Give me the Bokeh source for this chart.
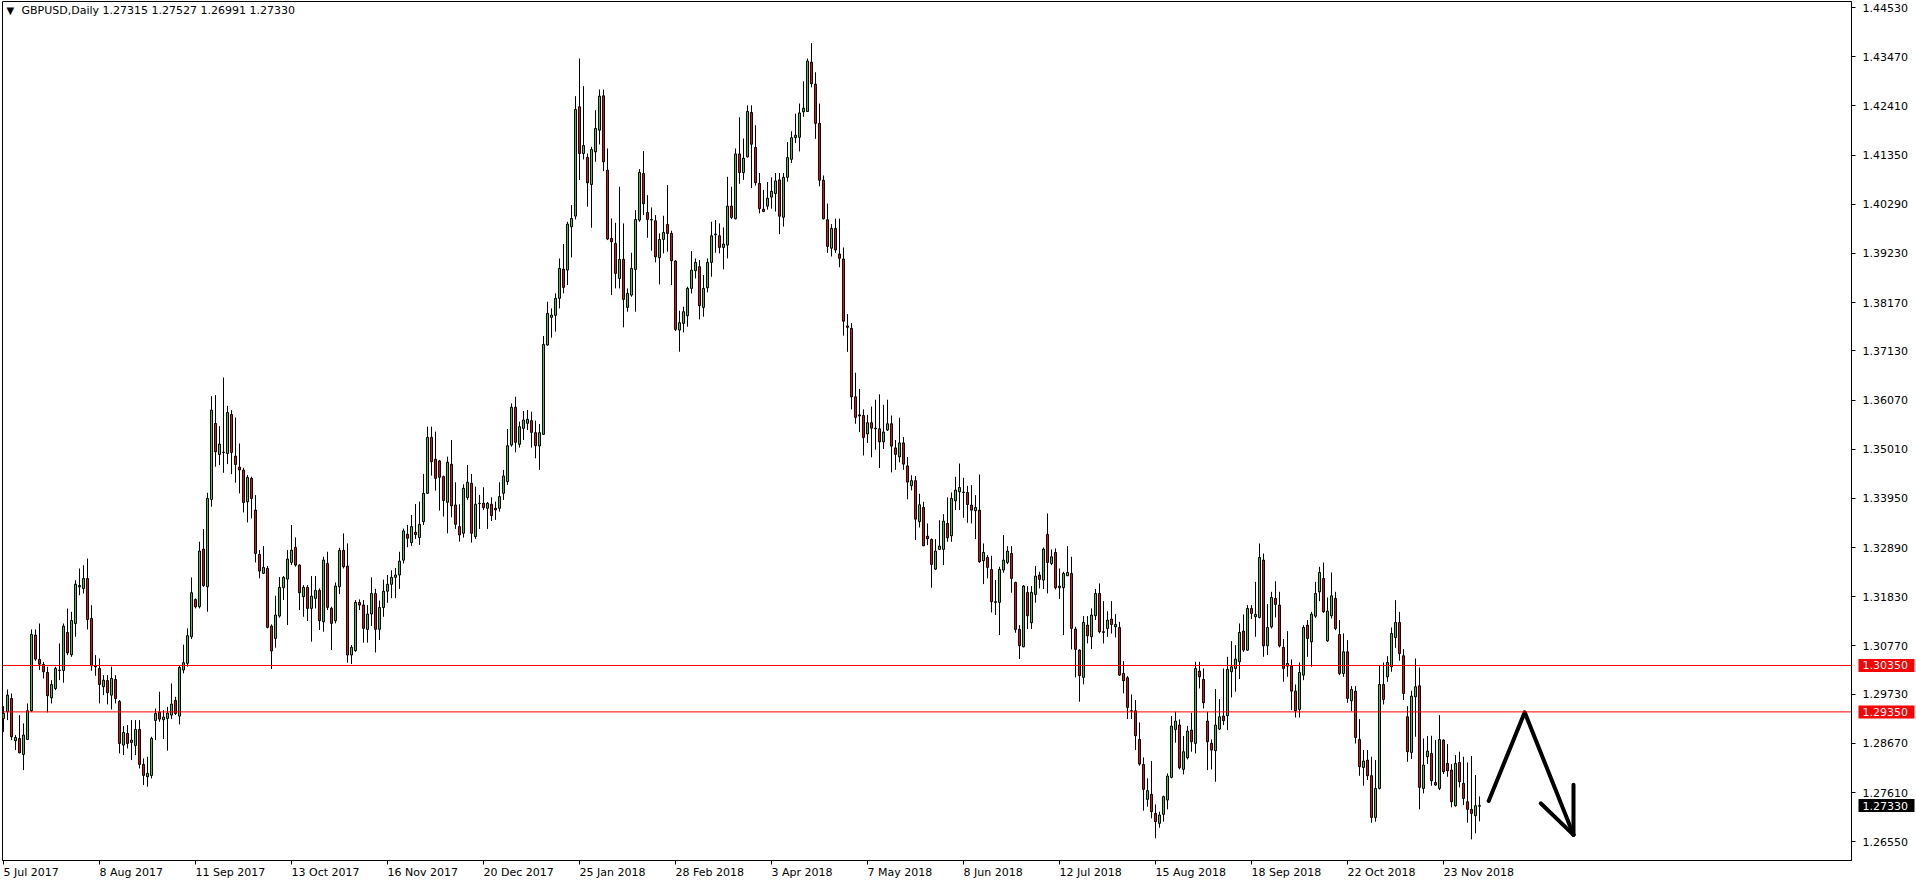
from bokeh.plotting import figure
from bokeh.models import Range1d, FixedTicker, PrintfTickFormatter, Span, Label, ColumnDataSource
from bokeh.core.properties import value
from bokeh.embed import file_html
from bokeh.resources import INLINE

# ---------------- data (GBPUSD daily) ----------------
opens = [
 1.29207, 1.29352, 1.29639, 1.28728, 1.28778, 1.28433, 1.28756, 1.29374, 1.31004, 1.30480,
 1.30372, 1.30200, 1.29654, 1.29855, 1.30243, 1.30243, 1.31061, 1.30580, 1.31255, 1.32045,
 1.32009, 1.32224, 1.31363, 1.30343, 1.30286, 1.29891, 1.30027, 1.29711, 1.30049, 1.29575,
 1.28634, 1.28886, 1.28692, 1.28627, 1.28972, 1.28218, 1.27952, 1.27981, 1.29166, 1.29345,
 1.29180, 1.29209, 1.29281, 1.29596, 1.29259, 1.30252, 1.30396, 1.30970, 1.31774, 1.31617,
 1.32859, 1.32047, 1.33928, 1.35566, 1.34898, 1.34941, 1.34919, 1.35759, 1.34862, 1.34625,
 1.34560, 1.33878, 1.34381, 1.33699, 1.32744, 1.32335, 1.32442, 1.31200, 1.30934, 1.31415,
 1.32026, 1.32212, 1.32571, 1.32895, 1.32514, 1.31832, 1.32033, 1.31581, 1.31796, 1.31968,
 1.31293, 1.32550, 1.31581, 1.31315, 1.32047, 1.32830, 1.32492, 1.30575, 1.30669, 1.31710,
 1.31652, 1.31128, 1.31460, 1.31900, 1.31130, 1.31600, 1.31950, 1.32100, 1.32250, 1.32300,
 1.32620, 1.33178, 1.32999, 1.33221, 1.33106, 1.33451, 1.34061, 1.35267, 1.34794, 1.34757,
 1.34420, 1.33867, 1.34686, 1.33810, 1.33343, 1.33200, 1.33968, 1.34277, 1.33128, 1.33839,
 1.33846, 1.33738, 1.33824, 1.33738, 1.33738, 1.34061, 1.34313, 1.35102, 1.35914, 1.35117,
 1.35461, 1.35569, 1.35627, 1.35368, 1.35081, 1.35332, 1.37256, 1.37852, 1.37895, 1.38262,
 1.38893, 1.38872, 1.39805, 1.40035, 1.42390, 1.41385, 1.41299, 1.40717, 1.41421, 1.41887,
 1.42627, 1.41026, 1.39554, 1.39446, 1.38692, 1.39102, 1.38068, 1.38333, 1.38886, 1.39949,
 1.40954, 1.40114, 1.39963, 1.39934, 1.39138, 1.39532, 1.39856, 1.39662, 1.39066, 1.37579,
 1.37723, 1.37888, 1.38477, 1.38857, 1.38944, 1.38068, 1.38491, 1.39037, 1.39633, 1.39611,
 1.39360, 1.39410, 1.40250, 1.39979, 1.41375, 1.40972, 1.41313, 1.42267, 1.41514, 1.40739,
 1.40181, 1.40250, 1.40444, 1.40522, 1.40816, 1.40010, 1.40871, 1.41259, 1.41724, 1.41732,
 1.42282, 1.42290, 1.43352, 1.42879, 1.42034, 1.40809, 1.39956, 1.39343, 1.39770, 1.39219,
 1.39110, 1.37668, 1.37614, 1.36140, 1.35752, 1.35737, 1.35341, 1.35582, 1.35465, 1.35450,
 1.35171, 1.35427, 1.35559, 1.35039, 1.34845, 1.35147, 1.34651, 1.34225, 1.34333, 1.33449,
 1.33756, 1.33138, 1.33066, 1.32427, 1.32851, 1.32851, 1.33411, 1.33145, 1.33899, 1.34093,
 1.34079, 1.34079, 1.33806, 1.33684, 1.33698, 1.32607, 1.32679, 1.32420, 1.31724, 1.31710,
 1.32406, 1.32571, 1.32765, 1.32140, 1.31128, 1.30754, 1.31925, 1.31271, 1.31882, 1.32298,
 1.32190, 1.33174, 1.32549, 1.32786, 1.32061, 1.32025, 1.32284, 1.32334, 1.31135, 1.30683,
 1.30094, 1.31221, 1.30970, 1.31422, 1.31903, 1.31077, 1.31148, 1.31349, 1.31184, 1.31169,
 1.30179, 1.30085, 1.29374, 1.29374, 1.28757, 1.28218, 1.27465, 1.27572, 1.27163, 1.26948,
 1.27142, 1.27450, 1.27939, 1.28972, 1.29066, 1.28111, 1.28362, 1.28958, 1.28671, 1.30229,
 1.30050, 1.29152, 1.28671, 1.28513, 1.28980, 1.29260, 1.29267, 1.30215, 1.30286, 1.30430,
 1.31090, 1.30681, 1.31579, 1.31399, 1.31385, 1.32620, 1.30775, 1.31184, 1.31794, 1.31651,
 1.30739, 1.30336, 1.30336, 1.29797, 1.29403, 1.30142, 1.31219, 1.30860, 1.31413, 1.31937,
 1.32224, 1.30882, 1.31420, 1.31794, 1.31018, 1.30178, 1.30645, 1.29589, 1.29797, 1.28756,
 1.28153, 1.28311, 1.27974, 1.27076, 1.27701, 1.29941, 1.30106, 1.30322, 1.30953, 1.31277,
 1.30559, 1.29245, 1.28476, 1.29675, 1.29912, 1.27701, 1.28383, 1.28455, 1.27830, 1.27701,
 1.28742, 1.28240, 1.28096, 1.27328, 1.28261, 1.27809, 1.27414, 1.27249, 1.27112, 1.27315,
]
highs = [
 1.29473, 1.29833, 1.29747, 1.28850, 1.29280, 1.29101, 1.29532, 1.31126, 1.31126, 1.31255,
 1.30429, 1.30322, 1.30034, 1.30322, 1.30824, 1.31255, 1.31578, 1.31506, 1.32188, 1.32440,
 1.32512, 1.32655, 1.31650, 1.30573, 1.30501, 1.30142, 1.30142, 1.30322, 1.30142, 1.29604,
 1.29044, 1.29065, 1.29173, 1.29173, 1.29173, 1.28347, 1.28383, 1.28814, 1.29424, 1.29783,
 1.29388, 1.29460, 1.29963, 1.29675, 1.30358, 1.30800, 1.31150, 1.32248, 1.31796, 1.33017,
 1.33290, 1.34072, 1.36154, 1.36176, 1.35508, 1.36556, 1.35946, 1.35853, 1.35695, 1.35135,
 1.34611, 1.34453, 1.34417, 1.34022, 1.32837, 1.32923, 1.32492, 1.31236, 1.31853, 1.32256,
 1.32277, 1.32837, 1.33376, 1.33110, 1.32528, 1.32083, 1.32083, 1.32277, 1.32277, 1.32011,
 1.32694, 1.32801, 1.31617, 1.32141, 1.32887, 1.33196, 1.32981, 1.30791, 1.31760, 1.31774,
 1.31760, 1.31652, 1.32250, 1.32000, 1.31750, 1.32200, 1.32300, 1.32400, 1.32450, 1.32800,
 1.33300, 1.33379, 1.33594, 1.33831, 1.33882, 1.34478, 1.35497, 1.35497, 1.35389, 1.34779,
 1.34442, 1.34851, 1.35210, 1.34298, 1.33824, 1.34255, 1.34672, 1.34478, 1.34205, 1.34025,
 1.34191, 1.33874, 1.33975, 1.33882, 1.34298, 1.34564, 1.35447, 1.36000, 1.36143, 1.35605,
 1.35835, 1.35856, 1.35820, 1.35627, 1.35555, 1.37450, 1.38190, 1.38046, 1.38369, 1.39123,
 1.39432, 1.39913, 1.40272, 1.42620, 1.43431, 1.42835, 1.41385, 1.41528, 1.42318, 1.42763,
 1.42763, 1.41493, 1.39985, 1.39891, 1.40667, 1.39877, 1.38477, 1.39245, 1.40164, 1.41047,
 1.41435, 1.40487, 1.40222, 1.40057, 1.39662, 1.40042, 1.40703, 1.39719, 1.39087, 1.37996,
 1.38082, 1.38513, 1.39281, 1.39123, 1.39087, 1.38764, 1.39123, 1.39913, 1.39949, 1.39877,
 1.39791, 1.40882, 1.40667, 1.41491, 1.42166, 1.41708, 1.42422, 1.42422, 1.41995, 1.40964,
 1.40599, 1.40770, 1.40871, 1.40964, 1.40964, 1.40964, 1.41631, 1.41863, 1.42243, 1.42461,
 1.42941, 1.43430, 1.43763, 1.43135, 1.42461, 1.40910, 1.40305, 1.39863, 1.39979, 1.39979,
 1.39359, 1.37924, 1.37730, 1.36660, 1.36311, 1.35869, 1.35752, 1.35931, 1.36078, 1.36195,
 1.35970, 1.36078, 1.35737, 1.35210, 1.35690, 1.35272, 1.34845, 1.34450, 1.34434, 1.34050,
 1.33878, 1.33411, 1.33088, 1.33074, 1.33483, 1.33612, 1.33971, 1.34079, 1.34416, 1.34703,
 1.34395, 1.34222, 1.34237, 1.34021, 1.34466, 1.32980, 1.32729, 1.32715, 1.32190, 1.32478,
 1.33160, 1.32923, 1.32923, 1.32155, 1.31221, 1.32083, 1.32061, 1.32061, 1.32492, 1.32370,
 1.32894, 1.33626, 1.32851, 1.32872, 1.32442, 1.32370, 1.32923, 1.32693, 1.31185, 1.30697,
 1.31415, 1.31415, 1.31580, 1.31997, 1.32119, 1.31737, 1.31521, 1.31737, 1.31457, 1.31291,
 1.30444, 1.30121, 1.29726, 1.29604, 1.29123, 1.28369, 1.27917, 1.28290, 1.27357, 1.27199,
 1.27544, 1.28025, 1.29260, 1.29353, 1.29188, 1.28829, 1.29044, 1.29331, 1.30430, 1.30430,
 1.30286, 1.29353, 1.28757, 1.29841, 1.29626, 1.30286, 1.30538, 1.30875, 1.30789, 1.31256,
 1.31450, 1.31651, 1.31651, 1.32153, 1.32979, 1.32763, 1.31672, 1.31938, 1.32167, 1.31938,
 1.30918, 1.31090, 1.30480, 1.29941, 1.30415, 1.31219, 1.31327, 1.31506, 1.32153, 1.32476,
 1.32569, 1.31815, 1.32354, 1.31937, 1.31327, 1.31040, 1.30896, 1.29905, 1.29905, 1.29194,
 1.28527, 1.28527, 1.28383, 1.28311, 1.30358, 1.30415, 1.30551, 1.31169, 1.31758, 1.31506,
 1.30702, 1.29474, 1.29805, 1.30501, 1.30307, 1.28778, 1.28828, 1.28835, 1.28742, 1.29280,
 1.28756, 1.28656, 1.28225, 1.28419, 1.28491, 1.28383, 1.28261, 1.28397, 1.27988, 1.27527,
]
lows = [
 1.28920, 1.29173, 1.28742, 1.28527, 1.28455, 1.28096, 1.28742, 1.29352, 1.30451, 1.30250,
 1.30070, 1.29338, 1.29532, 1.29819, 1.30034, 1.29977, 1.30573, 1.30537, 1.30968, 1.31865,
 1.31901, 1.31126, 1.30235, 1.30128, 1.29532, 1.29711, 1.29510, 1.29403, 1.29532, 1.28455,
 1.28419, 1.28563, 1.28311, 1.28419, 1.28132, 1.27773, 1.27737, 1.27916, 1.28742, 1.29137,
 1.28764, 1.28512, 1.29194, 1.29281, 1.29080, 1.30180, 1.30324, 1.30920, 1.31581, 1.31581,
 1.32047, 1.31509, 1.33771, 1.34632, 1.34668, 1.34503, 1.34690, 1.34474, 1.34287, 1.34058,
 1.33648, 1.33433, 1.33519, 1.32571, 1.32227, 1.32320, 1.31150, 1.30274, 1.30733, 1.31380,
 1.31760, 1.31222, 1.32514, 1.32478, 1.31545, 1.31401, 1.31308, 1.30863, 1.31581, 1.31114,
 1.31078, 1.31545, 1.30683, 1.31258, 1.31889, 1.32442, 1.30410, 1.30382, 1.30647, 1.31545,
 1.30841, 1.30841, 1.31200, 1.30630, 1.30900, 1.31400, 1.31700, 1.31800, 1.31800, 1.32000,
 1.32550, 1.32900, 1.32927, 1.33078, 1.32950, 1.33379, 1.34047, 1.34442, 1.34119, 1.33688,
 1.33559, 1.33200, 1.33544, 1.33293, 1.33020, 1.33106, 1.33918, 1.32999, 1.33078, 1.33293,
 1.33702, 1.33293, 1.33465, 1.33487, 1.33666, 1.33918, 1.34241, 1.35066, 1.34944, 1.35045,
 1.35210, 1.35425, 1.35045, 1.34815, 1.34564, 1.35318, 1.37242, 1.37414, 1.37544, 1.38046,
 1.38369, 1.38549, 1.39145, 1.39963, 1.40810, 1.41256, 1.40236, 1.39784, 1.41205, 1.41579,
 1.41004, 1.39518, 1.38333, 1.38477, 1.38477, 1.37637, 1.37974, 1.38297, 1.37974, 1.39913,
 1.40057, 1.39568, 1.39288, 1.39037, 1.38563, 1.39231, 1.39267, 1.38549, 1.37558, 1.37113,
 1.37529, 1.37651, 1.38369, 1.38692, 1.37809, 1.37867, 1.38391, 1.38728, 1.39245, 1.39231,
 1.38886, 1.39123, 1.39970, 1.39963, 1.40731, 1.40816, 1.41297, 1.40638, 1.40692, 1.40095,
 1.40119, 1.40173, 1.40196, 1.40134, 1.39646, 1.39808, 1.40778, 1.41181, 1.41608, 1.41429,
 1.42174, 1.42282, 1.42810, 1.41700, 1.40677, 1.39963, 1.39242, 1.39165, 1.39242, 1.38932,
 1.37458, 1.37110, 1.35869, 1.35559, 1.35380, 1.34876, 1.35147, 1.34837, 1.35000, 1.34605,
 1.35016, 1.35404, 1.34512, 1.34566, 1.34729, 1.34566, 1.33930, 1.34124, 1.33054, 1.33325,
 1.32923, 1.32944, 1.32025, 1.32406, 1.32837, 1.32514, 1.33016, 1.33016, 1.33698, 1.33698,
 1.33533, 1.33425, 1.33411, 1.33074, 1.32564, 1.32104, 1.32226, 1.31494, 1.31437, 1.31006,
 1.32348, 1.32535, 1.31918, 1.31056, 1.30489, 1.30740, 1.31135, 1.31135, 1.31702, 1.32011,
 1.31997, 1.31903, 1.32514, 1.31989, 1.31781, 1.31006, 1.32277, 1.30697, 1.30094, 1.29570,
 1.29943, 1.30826, 1.30704, 1.31329, 1.31042, 1.30825, 1.30968, 1.31040, 1.30954, 1.30128,
 1.29748, 1.29195, 1.29195, 1.28527, 1.28190, 1.27220, 1.27306, 1.27055, 1.26625, 1.26854,
 1.26984, 1.27249, 1.27917, 1.28685, 1.28111, 1.28003, 1.28326, 1.28491, 1.28455, 1.29856,
 1.29425, 1.28096, 1.28111, 1.27845, 1.28958, 1.29066, 1.28958, 1.29662, 1.29784, 1.30057,
 1.30645, 1.30667, 1.31349, 1.30968, 1.31363, 1.30538, 1.30574, 1.31148, 1.31385, 1.30739,
 1.29999, 1.30106, 1.29388, 1.29230, 1.29230, 1.30034, 1.30537, 1.30322, 1.31377, 1.31736,
 1.31485, 1.30860, 1.31363, 1.31111, 1.30142, 1.30106, 1.29546, 1.29367, 1.28670, 1.27974,
 1.27758, 1.27881, 1.26961, 1.26983, 1.27679, 1.29510, 1.29999, 1.30214, 1.30731, 1.30451,
 1.29604, 1.28275, 1.28333, 1.28814, 1.27249, 1.27593, 1.28225, 1.27758, 1.27758, 1.27665,
 1.28010, 1.27952, 1.27292, 1.27306, 1.27722, 1.27342, 1.26961, 1.26602, 1.26732, 1.26991,
]
closes = [
 1.29315, 1.29711, 1.28814, 1.28799, 1.28469, 1.28850, 1.29374, 1.31018, 1.30487, 1.30379,
 1.30214, 1.29697, 1.29941, 1.30286, 1.30250, 1.31198, 1.30623, 1.31320, 1.32102, 1.32074,
 1.32224, 1.31341, 1.30343, 1.30322, 1.29941, 1.30034, 1.29762, 1.30070, 1.29639, 1.28670,
 1.28907, 1.28670, 1.28742, 1.28972, 1.28218, 1.27981, 1.28024, 1.28778, 1.29316, 1.29194,
 1.29237, 1.29324, 1.29518, 1.29316, 1.30307, 1.30410, 1.30992, 1.31918, 1.31617, 1.32816,
 1.32069, 1.33950, 1.35853, 1.34955, 1.35120, 1.34948, 1.35802, 1.34941, 1.34682, 1.34567,
 1.33864, 1.34402, 1.33950, 1.32765, 1.32385, 1.32464, 1.31171, 1.30662, 1.31437, 1.32033,
 1.32248, 1.32643, 1.32837, 1.32514, 1.31918, 1.32033, 1.31581, 1.31846, 1.31968, 1.31315,
 1.32622, 1.31602, 1.31258, 1.32062, 1.32830, 1.32478, 1.30575, 1.30741, 1.31710, 1.31652,
 1.31150, 1.31459, 1.31900, 1.31130, 1.31600, 1.31950, 1.32100, 1.32250, 1.32300, 1.32600,
 1.33250, 1.33092, 1.33343, 1.33171, 1.33393, 1.34061, 1.35267, 1.34743, 1.34384, 1.34406,
 1.33903, 1.34729, 1.33789, 1.33393, 1.33164, 1.34169, 1.34298, 1.33200, 1.33824, 1.33846,
 1.33753, 1.33846, 1.33580, 1.33702, 1.33990, 1.34435, 1.35086, 1.35914, 1.35160, 1.35497,
 1.35641, 1.35655, 1.35375, 1.35086, 1.35368, 1.37271, 1.37938, 1.37902, 1.38262, 1.38908,
 1.38498, 1.39863, 1.39985, 1.42333, 1.41385, 1.41557, 1.40753, 1.41471, 1.41923, 1.42620,
 1.41205, 1.39540, 1.39482, 1.38800, 1.39102, 1.38240, 1.38369, 1.38908, 1.39963, 1.40976,
 1.40301, 1.39963, 1.39949, 1.39159, 1.39532, 1.39683, 1.39662, 1.39073, 1.37594, 1.37737,
 1.37974, 1.38477, 1.38872, 1.39037, 1.38104, 1.38477, 1.39037, 1.39611, 1.39647, 1.39360,
 1.39432, 1.40250, 1.40006, 1.41375, 1.40972, 1.41282, 1.42290, 1.41584, 1.40754, 1.40196,
 1.40134, 1.40421, 1.40568, 1.40793, 1.40033, 1.40871, 1.41297, 1.41724, 1.41778, 1.42259,
 1.42360, 1.43376, 1.42887, 1.42034, 1.40809, 1.39979, 1.39382, 1.39770, 1.39304, 1.39126,
 1.37769, 1.37637, 1.36140, 1.35698, 1.35729, 1.35264, 1.35582, 1.35465, 1.35450, 1.35171,
 1.35380, 1.35559, 1.35078, 1.34899, 1.35147, 1.34690, 1.34302, 1.34333, 1.33503, 1.33814,
 1.32930, 1.33081, 1.32528, 1.32815, 1.32923, 1.33461, 1.33102, 1.33950, 1.34129, 1.34186,
 1.34086, 1.33820, 1.33698, 1.33756, 1.32585, 1.32786, 1.32463, 1.31724, 1.31710, 1.32420,
 1.32621, 1.32815, 1.32226, 1.31128, 1.30776, 1.32061, 1.31422, 1.31925, 1.32277, 1.32205,
 1.32858, 1.32571, 1.32693, 1.32025, 1.32025, 1.32334, 1.32356, 1.31149, 1.30697, 1.30130,
 1.31279, 1.30991, 1.31437, 1.31903, 1.31077, 1.31063, 1.31327, 1.31234, 1.31234, 1.30143,
 1.30021, 1.29446, 1.29367, 1.28836, 1.28226, 1.27680, 1.27651, 1.27199, 1.26984, 1.27127,
 1.27522, 1.27967, 1.29044, 1.29152, 1.28147, 1.28491, 1.28936, 1.28707, 1.30286, 1.30107,
 1.29547, 1.28707, 1.28527, 1.29066, 1.29245, 1.29159, 1.30265, 1.30322, 1.30487, 1.31062,
 1.30681, 1.31579, 1.31471, 1.31450, 1.32677, 1.30775, 1.31169, 1.31816, 1.31665, 1.30775,
 1.30286, 1.30393, 1.29797, 1.29374, 1.30200, 1.31169, 1.30932, 1.31456, 1.31901, 1.32354,
 1.31506, 1.31521, 1.31851, 1.31147, 1.30178, 1.30645, 1.29640, 1.29833, 1.28799, 1.28168,
 1.28290, 1.27974, 1.27076, 1.27701, 1.29941, 1.29618, 1.30415, 1.31040, 1.31277, 1.30609,
 1.29747, 1.28491, 1.29690, 1.29891, 1.27722, 1.28204, 1.28505, 1.27866, 1.27773, 1.28756,
 1.28060, 1.28081, 1.27414, 1.28240, 1.27845, 1.27485, 1.27249, 1.27162, 1.27328, 1.27330,
]

date_labels = ["5 Jul 2017", "8 Aug 2017", "11 Sep 2017", "13 Oct 2017", "16 Nov 2017",
               "20 Dec 2017", "25 Jan 2018", "28 Feb 2018", "3 Apr 2018", "7 May 2018",
               "8 Jun 2018", "12 Jul 2018", "15 Aug 2018", "18 Sep 2018", "22 Oct 2018",
               "23 Nov 2018"]
date_label_bars = [0, 24, 48, 72, 96, 120, 144, 168, 192, 216, 240, 264, 288, 312, 336, 360]
price_ticks = [1.44530, 1.43470, 1.42410, 1.41350, 1.40290, 1.39230, 1.38170, 1.37130,
               1.36070, 1.35010, 1.33950, 1.32890, 1.31830, 1.30770, 1.29730, 1.28670,
               1.27610, 1.26550]
levels = [1.30350, 1.29350]
last_price = 1.27330
header = "GBPUSD,Daily  1.27315 1.27527 1.26991 1.27330"
# hand-drawn arrow (bar index, price)
arrow_xs = [[371.3, 380.3, 392.5], [384.3, 392.5], [392.5, 392.5]]
arrow_ys = [[1.2743, 1.2934, 1.2670], [1.2738, 1.2670], [1.2778, 1.2670]]

# ---------------- styling / layout ----------------
BULL = "#32CD32"
BEAR = "#FF0000"
FONT = "DejaVu Sans"
W, H = 1915, 883
FL, FT, FR, FB = 2, 1, 64, 23          # frame spans x 2..1851, y 1..860
X0, X1 = -0.25, 462.0                  # exactly 4 px per bar, pixel aligned
Y0, Y1 = 1.26147, 1.44660

n = len(closes)
src = ColumnDataSource(dict(
    x=list(range(n)), high=highs, low=lows,
    top=[max(o, c) for o, c in zip(opens, closes)],
    bottom=[min(o, c) for o, c in zip(opens, closes)],
    color=[BULL if c >= o else BEAR for o, c in zip(opens, closes)],
))

p = figure(width=W, height=H, x_range=Range1d(X0, X1), y_range=Range1d(Y0, Y1),
           y_axis_location="right", toolbar_location=None, output_backend="svg",
           min_border_left=FL, min_border_right=FR, min_border_top=FT, min_border_bottom=FB,
           outline_line_color="black", outline_line_width=1,
           background_fill_color="white", border_fill_color="white")
p.grid.visible = False

ya = p.yaxis[0]
ya.ticker = FixedTicker(ticks=price_ticks)
ya.formatter = PrintfTickFormatter(format="%.5f")
ya.axis_label = None
ya.axis_label_standoff = 0
ya.major_tick_in = 0
ya.major_tick_out = 4
ya.minor_tick_in = 0
ya.minor_tick_out = 0
ya.minor_tick_line_color = None
ya.major_label_standoff = 7
ya.major_label_text_font = FONT
ya.major_label_text_font_size = "11px"
ya.major_label_text_color = "black"
ya.axis_line_color = "black"
ya.major_tick_line_color = "black"

xa = p.xaxis[0]
xa.ticker = FixedTicker(ticks=date_label_bars)
xa.major_label_overrides = {b: "" for b in date_label_bars}
xa.axis_label = None
xa.axis_label_standoff = 0
xa.major_tick_in = 0
xa.major_tick_out = 4
xa.minor_tick_in = 0
xa.minor_tick_out = 0
xa.minor_tick_line_color = None
xa.major_label_standoff = 0
xa.axis_line_color = "black"
xa.major_tick_line_color = "black"

for lvl in levels:
    p.add_layout(Span(location=lvl, dimension="width", line_color="#FF0000", line_width=1))

p.segment(x0="x", y0="high", x1="x", y1="low", source=src, line_color="black", line_width=1)
p.vbar(x="x", width=0.5, top="top", bottom="bottom", source=src,
       fill_color="color", line_color="black", line_width=1)

p.multi_line(arrow_xs, arrow_ys, line_color="black", line_width=4,
             line_cap="round", line_join="round")

# date labels under the axis ticks (left aligned at the tick, as in MT4)
p.text(x=date_label_bars, y=[Y0] * len(date_label_bars), text=date_labels,
       x_offset=0, y_offset=5, text_font=value(FONT), text_font_size=value("11px"),
       text_color="black", text_align="left", text_baseline="top", level="annotation")

# price boxes on the right scale
box_prices = levels + [last_price]
box_colors = ["#FF0000", "#FF0000", "black"]
p.rect(x=[X1 + 35 / 4.0] * 3, y=box_prices, width=56, height=13,
       width_units="screen", height_units="screen",
       fill_color=box_colors, line_color=None, level="annotation")
p.text(x=[X1] * 3, y=box_prices, text=["%.5f" % v for v in box_prices],
       x_offset=11, text_font=value(FONT), text_font_size=value("11px"),
       text_color="white", text_align="left", text_baseline="middle", level="annotation")

p.add_layout(Label(x=X0, y=Y1, x_offset=4, y_offset=-3, text="\u25bc", text_font=FONT,
                   text_font_size="10px", text_color="black",
                   text_align="left", text_baseline="top"))
p.add_layout(Label(x=X0, y=Y1, x_offset=19, y_offset=-2, text=header, text_font=FONT,
                   text_font_size="11px", text_color="black",
                   text_align="left", text_baseline="top"))

open("out.html", "w").write(file_html(p, INLINE))
